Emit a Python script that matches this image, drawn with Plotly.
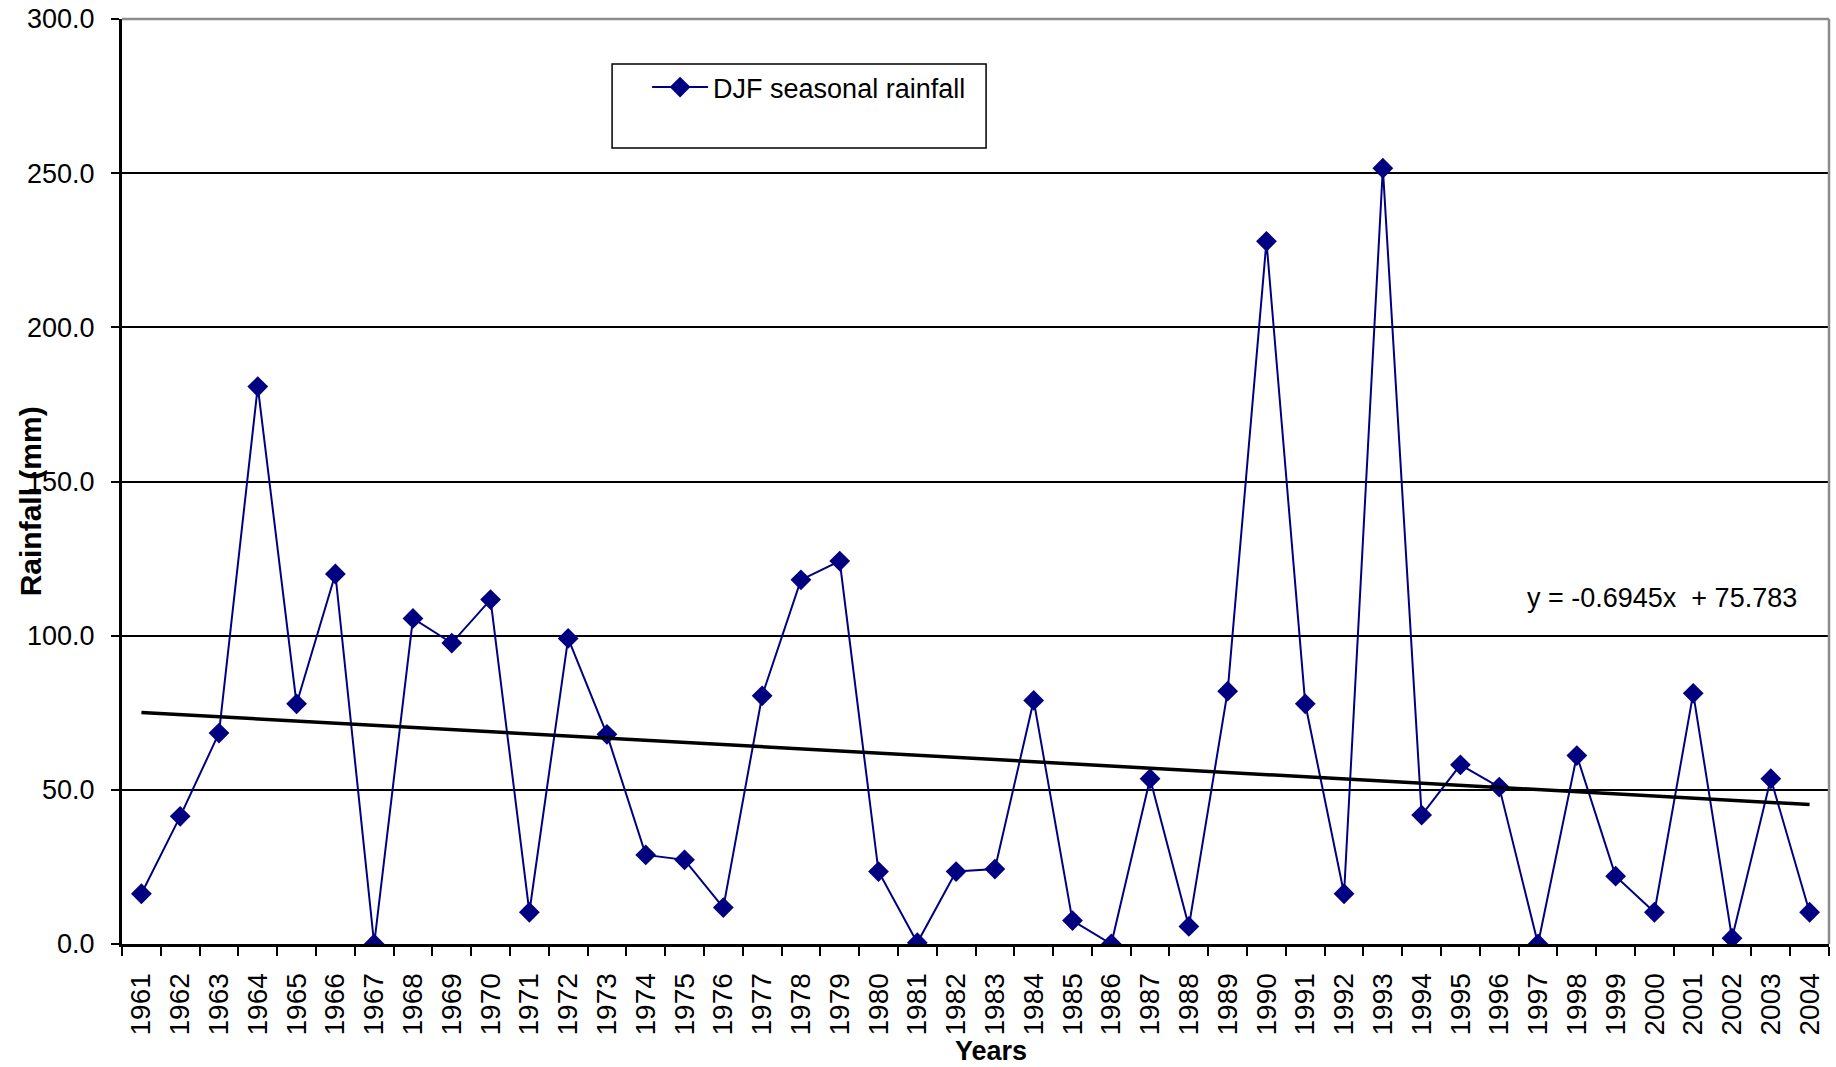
import plotly.graph_objects as go

years = [str(y) for y in range(1961, 2005)]
rainfall = [16.3, 41.4, 68.4, 180.8, 77.9, 120.0, 0.0, 105.6, 97.6, 111.7,
            10.3, 99.1, 68.0, 28.9, 27.3, 11.8, 80.5, 118.1, 124.2, 23.5,
            0.4, 23.5, 24.3, 79.0, 7.6, 0.0, 53.6, 5.7, 82.0, 227.9,
            77.9, 16.3, 251.6, 41.8, 58.1, 50.9, 0.0, 61.1, 22.0, 10.3,
            81.3, 1.9, 53.6, 10.3]
trend_slope = -0.6945
trend_intercept = 75.783
y_ticks = [0, 50, 100, 150, 200, 250, 300]

trend = [trend_slope * (i + 1) + trend_intercept for i in range(len(years))]

FONT = "Liberation Sans, Arial, sans-serif"
NAVY = "#000080"

fig = go.Figure()
fig.add_trace(go.Scatter(
    x=years, y=rainfall, mode="lines+markers", name="DJF seasonal rainfall",
    line=dict(color=NAVY, width=2),
    marker=dict(symbol="diamond", size=16, color=NAVY),
))
fig.add_trace(go.Scatter(
    x=years, y=trend, mode="lines", showlegend=False,
    line=dict(color="black", width=3.5), hoverinfo="skip",
))

fig.update_layout(
    width=1836, height=1067,
    margin=dict(l=122, r=7, t=19, b=123, autoexpand=False),
    paper_bgcolor="white", plot_bgcolor="white",
    font=dict(family=FONT, size=27, color="black"),
    legend=dict(x=0.3076, y=0.9524, xanchor="left", yanchor="top",
                bgcolor="rgba(0,0,0,0)", borderwidth=0, itemwidth=56,
                font=dict(size=27)),
    showlegend=True,
)
fig.update_xaxes(
    type="category", range=[-0.5, len(years) - 0.5], automargin=False,
    tickson="boundaries", ticks="outside", ticklen=9, tickwidth=2, tickcolor="black",
    tickangle=-90, tickfont=dict(size=28), ticklabelstandoff=15,
    ticklabeloverflow="allow",
    showline=True, linecolor="black", linewidth=3, showgrid=False,
)
fig.update_yaxes(
    range=[0, 300], tickvals=y_ticks, tickformat=".1f", automargin=False,
    ticks="outside", ticklen=8, tickwidth=2, tickcolor="black",
    ticklabelstandoff=11, ticklabeloverflow="allow",
    showline=True, linecolor="black", linewidth=3,
    showgrid=True, gridcolor="black", gridwidth=1.5, zeroline=False,
)

# plot-area border (top and right) in grey
fig.add_shape(type="line", xref="paper", yref="paper", x0=0, x1=1, y0=1, y1=1,
              line=dict(color="#8c8c8c", width=2.5))
fig.add_shape(type="line", xref="paper", yref="paper", x0=1, x1=1, y0=0, y1=1,
              line=dict(color="#8c8c8c", width=2.5))
# legend box
fig.add_shape(type="rect", xref="paper", yref="paper",
              x0=0.2871, x1=0.5062, y0=0.8605, y1=0.9514,
              line=dict(color="black", width=1.5), fillcolor="white", layer="below")

fig.add_annotation(text=f"y = {trend_slope}x  + {trend_intercept}", xref="paper", yref="paper",
                   x=0.9022, y=0.374, xanchor="center", yanchor="middle",
                   showarrow=False, font=dict(size=27))
fig.add_annotation(text="<b>Rainfall (mm)</b>", xref="paper", yref="paper",
                   x=-0.0536, y=0.478, xanchor="center", yanchor="middle",
                   textangle=-90, showarrow=False, font=dict(size=30))
fig.add_annotation(text="<b>Years</b>", xref="paper", yref="paper",
                   x=0.509, y=-0.1157, xanchor="center", yanchor="middle",
                   showarrow=False, font=dict(size=27))

# remove the default page margin so the figure fills the window exactly
fig.write_html("out.html", config={"displayModeBar": False},
               post_script="document.body.style.margin='0';document.body.style.overflow='hidden';")
